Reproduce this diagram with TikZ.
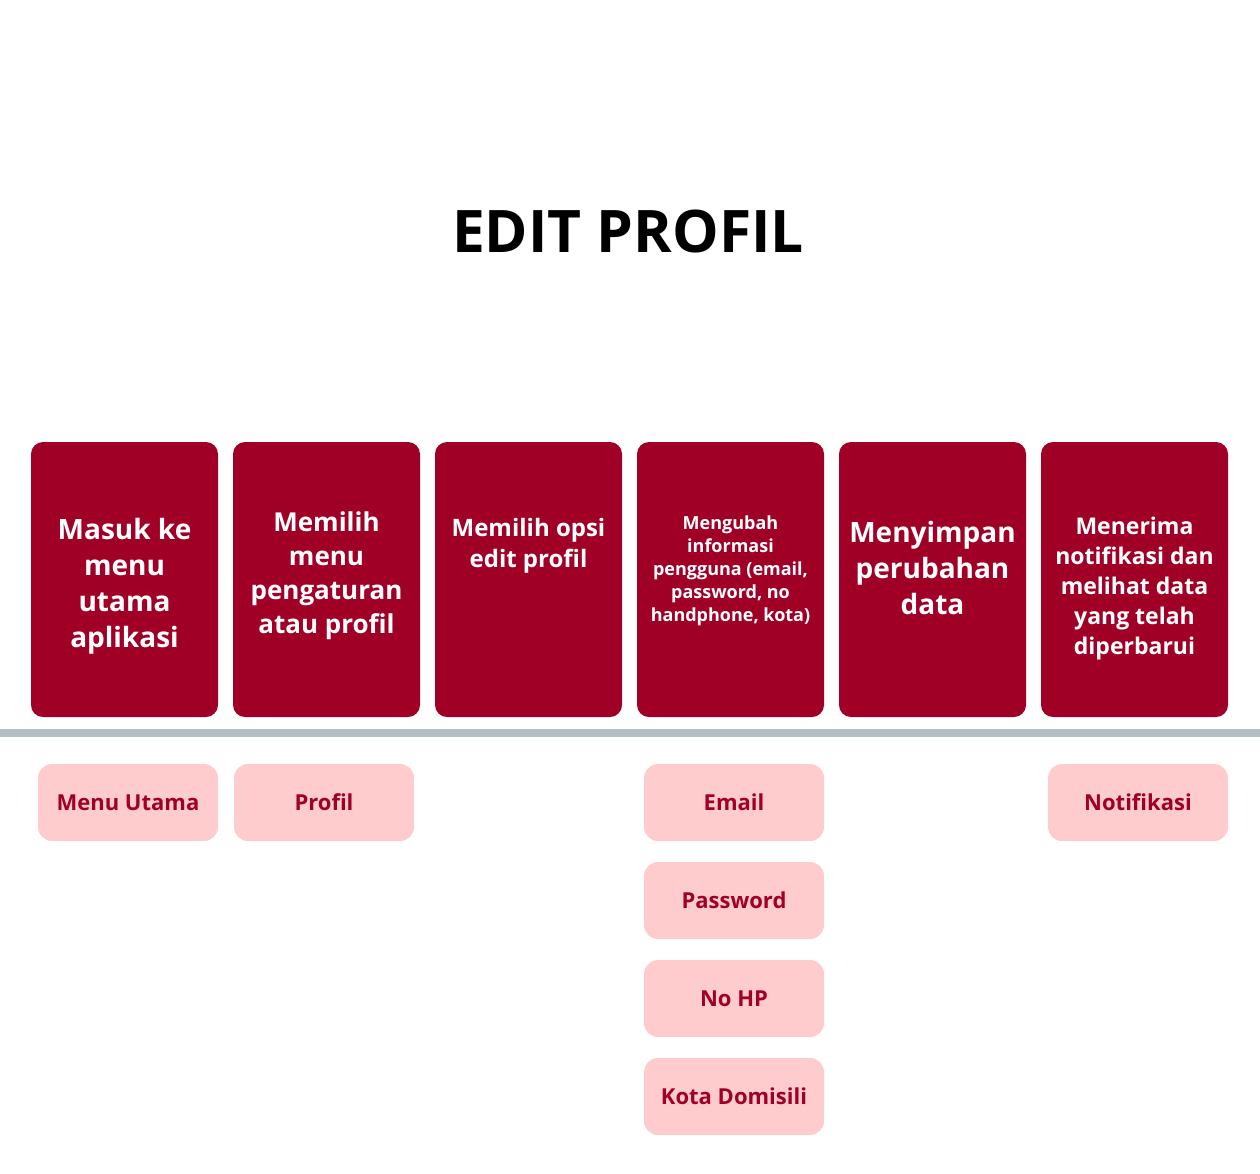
\documentclass[tikz,border=0pt]{standalone}
\usepackage{fontspec}
\setmainfont{Open Sans}
\usetikzlibrary{positioning,calc}
\definecolor{darkred}{HTML}{A10026}
\definecolor{pinkbg}{HTML}{FECCCC}
\definecolor{lanegrey}{HTML}{B0BEC5}
\tikzset{
  stepcard/.style={fill=darkred, rounded corners=9pt, minimum width=140.25pt, minimum height=206.25pt, inner sep=0pt},
  cardtext/.style={text=white, font=\bfseries, align=center, inner sep=0pt},
  tagbox/.style={fill=pinkbg, rounded corners=10.5pt, minimum width=135pt, minimum height=57.75pt, inner sep=0pt, text=darkred, font=\fontsize{16.5}{20}\selectfont\bfseries},
}
\begin{document}
\begin{tikzpicture}[x=0.75pt, y=-0.75pt]
  \useasboundingbox (0,0) rectangle (1260,1174);
  % title
  \node[font=\fontsize{44}{50}\selectfont\bfseries] (title) at (628,232) {EDIT PROFIL};
  % lane divider
  \coordinate (laneL) at (0,733);
  \coordinate (laneR) at (1260,733);
  \draw[lanegrey, line width=6pt] (laneL) -- (laneR);
  % step cards
  \node[stepcard] (s1) at (124.5,579.5) {};
  \node[stepcard] (s2) at (326.5,579.5) {};
  \node[stepcard] (s3) at (528.5,579.5) {};
  \node[stepcard] (s4) at (730.5,579.5) {};
  \node[stepcard] (s5) at (932.5,579.5) {};
  \node[stepcard] (s6) at (1134.5,579.5) {};
  \node[cardtext, font=\fontsize{21}{27}\selectfont\bfseries] (t1) at ($(s1.center)+(0,6.5)$) {Masuk ke\\menu\\utama\\aplikasi};
  \node[cardtext, font=\fontsize{19.5}{25.5}\selectfont\bfseries] (t2) at ($(s2.center)+(0,-3.5)$) {Memilih\\menu\\pengaturan\\atau profil};
  \node[cardtext, font=\fontsize{18}{23.25}\selectfont\bfseries] (t3) at ($(s3.center)+(0,-34)$) {Memilih opsi\\edit profil};
  \node[cardtext, font=\fontsize{13.5}{17.25}\selectfont\bfseries] (t4) at ($(s4.center)+(0,-8.5)$) {Mengubah\\informasi\\pengguna (email,\\password, no\\handphone, kota)};
  \node[cardtext, font=\fontsize{21}{27}\selectfont\bfseries] (t5) at ($(s5.center)+(0,-12)$) {Menyimpan\\perubahan\\data};
  \node[cardtext, font=\fontsize{17.25}{22.5}\selectfont\bfseries] (t6) at ($(s6.center)+(0,9.5)$) {Menerima\\notifikasi dan\\melihat data\\yang telah\\diperbarui};
  % tags below the lane
  \node[tagbox] (menu) at (128,802.5) {Menu Utama};
  \node[tagbox] (profil) at (324,802.5) {Profil};
  \node[tagbox] (email) at (734,802.5) {Email};
  \node[tagbox] (pass) at (734,900.5) {Password};
  \node[tagbox] (nohp) at (734,998.5) {No HP};
  \node[tagbox] (kota) at (734,1096.5) {Kota Domisili};
  \node[tagbox] (notif) at (1138,802.5) {Notifikasi};
\end{tikzpicture}
\end{document}
